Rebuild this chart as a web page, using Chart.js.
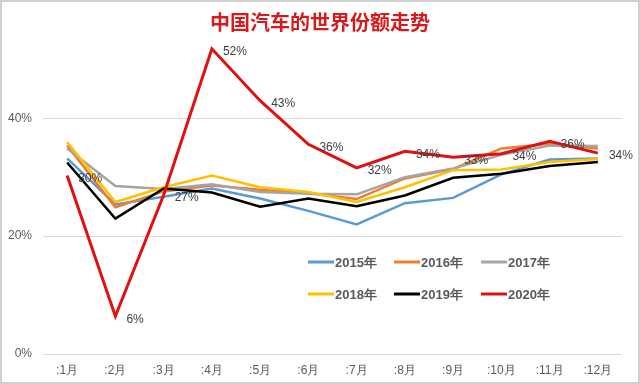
<!DOCTYPE html>
<html>
<head>
<meta charset="utf-8">
<script src="https://cdn.jsdelivr.net/npm/chart.js@4.4.1/dist/chart.umd.min.js"></script>
<style>
  html, body { margin: 0; padding: 0; background: #fff; }
  #wrap { width: 640px; height: 384px; position: relative; }
</style>
</head>
<body>
<div id="wrap"><canvas id="shareChart"></canvas></div>
<script>
const months = [':1月', ':2月', ':3月', ':4月', ':5月', ':6月', ':7月', ':8月', ':9月', ':10月', ':11月', ':12月'];
const seriesNames = ['2015年', '2016年', '2017年', '2018年', '2019年', '2020年'];

const y2015 = [33.2, 25.4, 26.7, 28.1, 26.4, 24.3, 22.0, 25.6, 26.5, 30.5, 33.0, 33.2];
const y2016 = [35.4, 24.9, 27.6, 28.6, 27.9, 27.3, 26.3, 29.8, 31.4, 34.9, 35.7, 34.9];
const y2017 = [34.9, 28.5, 28.0, 28.8, 27.5, 27.2, 27.1, 30.0, 31.5, 33.8, 35.4, 35.3];
const y2018 = [36.0, 25.8, 28.3, 30.3, 28.3, 27.5, 25.8, 28.3, 31.2, 31.3, 32.6, 33.1];
const y2019 = [32.5, 23.0, 28.1, 27.4, 25.0, 26.4, 25.1, 26.9, 29.9, 30.6, 31.9, 32.6];
const y2020 = [30.3, 6.4, 27.0, 51.8, 43.0, 35.6, 31.6, 34.4, 33.4, 34.0, 36.1, 34.1];
const y2020Labels = ['30%', '6%', '27%', '52%', '43%', '36%', '32%', '34%', '33%', '34%', '36%', '34%'];

const yTicks = [0, 20, 40];

const colors = ['#5b9bd5', '#ed7d31', '#a5a5a5', '#ffc000', '#000000', '#e0100f'];
const allSeries = [y2015, y2016, y2017, y2018, y2019, y2020];

const datasets = allSeries.map((vals, i) => ({
  label: seriesNames[i],
  data: vals,
  borderColor: colors[i],
  backgroundColor: colors[i],
  borderWidth: i === 5 ? 3 : 2.5,
  pointRadius: 0,
  tension: 0,
  order: 6 - i
}));

// title, legend inside plot, labels on the 2020 line, and the outer frame
const extras = {
  id: 'extras',
  afterDraw(chart) {
    const ctx = chart.ctx;
    ctx.save();

    ctx.fillStyle = '#d7191c';
    ctx.font = 'bold 20px "Noto Sans CJK SC"';
    ctx.textAlign = 'center';
    ctx.textBaseline = 'middle';
    ctx.fillText('中国汽车的世界份额走势', 320, 22);

    // value labels for 2020
    const meta = chart.getDatasetMeta(5);
    ctx.fillStyle = '#404040';
    ctx.font = '12px "Liberation Sans"';
    ctx.textAlign = 'left';
    meta.data.forEach((pt, i) => {
      ctx.fillText(y2020Labels[i], pt.x + 11, pt.y + 3);
    });

    // legend, two rows of three
    const colX = [308, 394, 481];
    const rowY = [262, 294];
    ctx.font = 'bold 13px "Liberation Sans"';
    ctx.fillStyle = '#595959';
    chart.data.datasets.forEach((ds, i) => {
      const x = colX[i % 3];
      const y = rowY[Math.floor(i / 3)];
      ctx.strokeStyle = ds.borderColor;
      ctx.lineWidth = 3;
      ctx.beginPath();
      ctx.moveTo(x, y);
      ctx.lineTo(x + 26, y);
      ctx.stroke();
      ctx.fillText(ds.label, x + 27, y + 1);
    });

    ctx.strokeStyle = '#d0d0d0';
    ctx.lineWidth = 2;
    ctx.strokeRect(1, 1, 638, 382);
    ctx.restore();
  }
};

new Chart(document.getElementById('shareChart'), {
  type: 'line',
  data: { labels: months, datasets: datasets },
  options: {
    responsive: true,
    maintainAspectRatio: false,
    animation: false,
    layout: { padding: { top: 0, right: 18, bottom: 0, left: 0 } },
    plugins: {
      legend: { display: false },
      title: { display: false },
      tooltip: { enabled: false }
    },
    scales: {
      x: {
        offset: true,
        grid: { display: false, drawTicks: false },
        border: { display: false },
        ticks: { color: '#595959', font: { size: 12, family: 'Liberation Sans' }, padding: 9 },
        afterFit(scale) { scale.height = 30; }
      },
      y: {
        min: 0,
        max: 57,
        afterBuildTicks(scale) { scale.ticks = yTicks.map(v => ({ value: v })); },
        grid: { color: '#d9d9d9', drawTicks: false },
        border: { display: false },
        ticks: {
          color: '#595959',
          font: { size: 12, family: 'Liberation Sans' },
          padding: 11,
          callback: v => v + '%'
        },
        afterFit(scale) { scale.width = 43; }
      }
    }
  },
  plugins: [extras]
});
</script>
</body>
</html>
